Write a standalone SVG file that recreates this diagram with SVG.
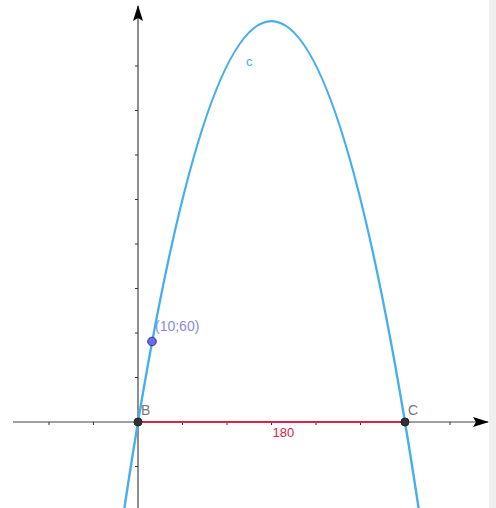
<svg xmlns="http://www.w3.org/2000/svg" width="496" height="508" viewBox="0 0 496 508">
<style>
.axis{stroke:#444;stroke-width:1.2;fill:none}
.tick{stroke:#333;stroke-width:1}
.curve{stroke:#45aef0;stroke-width:2.4;fill:none}
.seg{stroke:#e0204a;stroke-width:2}
.lbl{font-family:"Liberation Sans",Arial,sans-serif;font-size:13px}
.big{font-size:14px}
</style>
<defs>
<marker id="arr" markerWidth="16" markerHeight="10" refX="15" refY="5" orient="auto" markerUnits="userSpaceOnUse">
<path d="M0,0 L16,5 L0,10 L3,5 Z" fill="#000"/>
</marker>
</defs>
<rect x="0" y="0" width="496" height="508" fill="#fff"/>
<rect x="489" y="0" width="7" height="508" fill="#efefef"/>
<g id="axes">
<line class="axis" x1="13" y1="422" x2="488" y2="422" marker-end="url(#arr)"/>
<line class="axis" x1="138" y1="508" x2="138" y2="6" marker-end="url(#arr)"/>
<g class="tick">
<line x1="49" y1="422" x2="49" y2="425"/>
<line x1="93.5" y1="422" x2="93.5" y2="425"/>
<line x1="182.5" y1="422" x2="182.5" y2="425"/>
<line x1="227" y1="422" x2="227" y2="425"/>
<line x1="271.5" y1="422" x2="271.5" y2="425"/>
<line x1="316" y1="422" x2="316" y2="425"/>
<line x1="360.5" y1="422" x2="360.5" y2="425"/>
<line x1="450" y1="422" x2="450" y2="425"/>
<line x1="135" y1="466.5" x2="138" y2="466.5"/>
<line x1="135" y1="377.5" x2="138" y2="377.5"/>
<line x1="135" y1="333" x2="138" y2="333"/>
<line x1="135" y1="288.5" x2="138" y2="288.5"/>
<line x1="135" y1="244" x2="138" y2="244"/>
<line x1="135" y1="199.5" x2="138" y2="199.5"/>
<line x1="135" y1="155" x2="138" y2="155"/>
<line x1="135" y1="110.5" x2="138" y2="110.5"/>
<line x1="135" y1="66" x2="138" y2="66"/>
</g>
</g>
<g id="segment-BC">
<line class="seg" x1="138" y1="422" x2="405" y2="422"/>
<text class="lbl" x="272.5" y="437" fill="#e0204a">180</text>
</g>
<g id="curve-c">
<path class="curve" d="M124.4,508 Q271.5,-465.7 418.6,508"/>
<text class="lbl" x="246" y="66" fill="#45aef0" font-size="12">c</text>
</g>
<g id="point-B">
<circle cx="138" cy="422" r="4" fill="#333" stroke="#222"/>
<text class="lbl big" x="141" y="415" fill="#777">B</text>
</g>
<g id="point-C">
<circle cx="405" cy="422" r="4" fill="#333" stroke="#222"/>
<text class="lbl big" x="408" y="415" fill="#777">C</text>
</g>
<g id="point-P">
<circle cx="152" cy="341.5" r="4.3" fill="#6b6bef" stroke="#33336b" stroke-width="1"/>
<text class="lbl big" x="155" y="331" fill="#8a8ae6">(10;60)</text>
</g>
</svg>
